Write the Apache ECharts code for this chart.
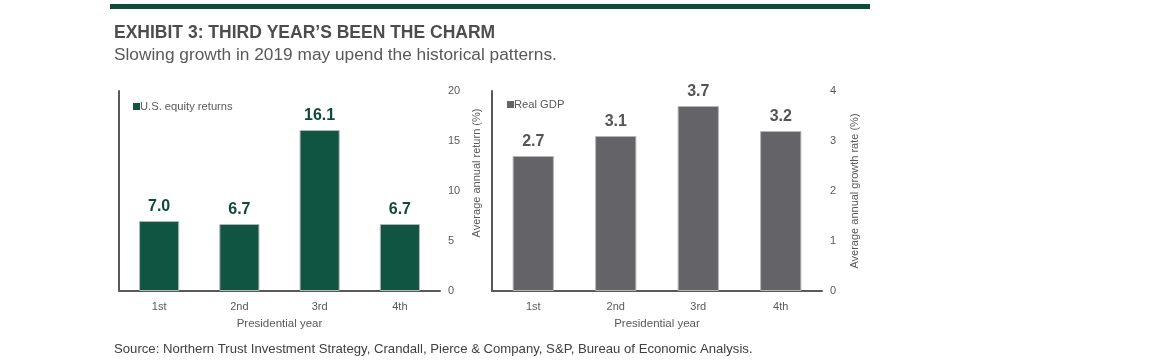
<!DOCTYPE html>
<html>
<head>
<meta charset="utf-8">
<script src="https://cdn.jsdelivr.net/npm/echarts@6/dist/echarts.min.js"></script>
<style>
html,body{margin:0;padding:0;background:#fff;}
#c{width:1168px;height:362px;}
</style>
</head>
<body>
<div id="c"></div>
<script>
var categories = ['1st', '2nd', '3rd', '4th'];
var equityReturns = [7.0, 6.7, 16.1, 6.7];
var realGDP = [2.7, 3.1, 3.7, 3.2];
var leftTicks = {min: 0, max: 20, interval: 5};
var rightTicks = {min: 0, max: 4, interval: 1};

var FONT = '"Liberation Sans", Arial, sans-serif';
var AXIS = '#595959';
var GREEN = '#0f5542';
var GRAY = '#646468';

var chart = echarts.init(document.getElementById('c'), null, {renderer: 'canvas'});

function xAxis(gi) {
  return {
    type: 'category', gridIndex: gi, data: categories,
    axisLine: {lineStyle: {color: AXIS, width: 2}},
    axisTick: {show: false},
    axisLabel: {color: AXIS, fontFamily: FONT, fontSize: 11, margin: 10},
    name: 'Presidential year', nameLocation: 'middle', nameGap: 27,
    nameTextStyle: {color: AXIS, fontFamily: FONT, fontSize: 11.5}
  };
}
function yLeft(gi, t) {
  return {
    type: 'value', gridIndex: gi, position: 'left', min: t.min, max: t.max, interval: t.interval,
    axisLine: {show: true, lineStyle: {color: AXIS, width: 2}},
    axisTick: {show: false}, axisLabel: {show: false}, splitLine: {show: false}
  };
}
function yRight(gi, t, name, gap, pad) {
  return {
    type: 'value', gridIndex: gi, position: 'right', min: t.min, max: t.max, interval: t.interval,
    axisLine: {show: false}, axisTick: {show: false}, splitLine: {show: false},
    axisLabel: {color: AXIS, fontFamily: FONT, fontSize: 11, margin: 8, align: 'left'},
    name: name, nameLocation: 'middle', nameRotate: 90, nameGap: gap,
    nameTextStyle: {color: AXIS, fontFamily: FONT, fontSize: 11, padding: pad}
  };
}

chart.setOption({
  animation: false,
  graphic: [
    {type: 'rect', shape: {x: 110, y: 4, width: 760, height: 5}, style: {fill: '#0b4d38'}},
    {type: 'text', x: 114, y: 33, style: {text: 'EXHIBIT 3: THIRD YEAR\u2019S BEEN THE CHARM', fill: '#4d4d4f', font: 'bold 17.5px ' + FONT, verticalAlign: 'middle'}},
    {type: 'text', x: 114, y: 55, style: {text: 'Slowing growth in 2019 may upend the historical patterns.', fill: '#59595b', font: '17.3px ' + FONT, verticalAlign: 'middle'}},
    {type: 'text', x: 114, y: 349, style: {text: 'Source: Northern Trust Investment Strategy, Crandall, Pierce & Company, S&P, Bureau of Economic Analysis.', fill: '#404040', font: '13.15px ' + FONT, verticalAlign: 'middle'}}
  ],
  legend: [
    {data: ['U.S. equity returns'], left: 128, top: 96, icon: 'rect', itemWidth: 7, itemHeight: 7, itemGap: 2,
     itemStyle: {borderWidth: 0},
     textStyle: {color: AXIS, fontFamily: FONT, fontSize: 11.2, padding: [0,0,0,-5]}},
    {data: ['Real GDP'], left: 502, top: 94, icon: 'rect', itemWidth: 7, itemHeight: 7, itemGap: 2,
     itemStyle: {borderWidth: 0},
     textStyle: {color: AXIS, fontFamily: FONT, fontSize: 11.2, padding: [0,0,0,-5]}}
  ],
  grid: [
    {left: 119, top: 91, width: 321, height: 200},
    {left: 492, top: 91, width: 330, height: 200}
  ],
  xAxis: [xAxis(0), xAxis(1)],
  yAxis: [
    yLeft(0, leftTicks),
    yRight(0, leftTicks, 'Average annual return (%)', 31, [0, 0, 0, 36]),
    yLeft(1, rightTicks),
    yRight(1, rightTicks, 'Average annual growth rate (%)', 27, 0)
  ],
  series: [
    {name: 'U.S. equity returns', type: 'bar', xAxisIndex: 0, yAxisIndex: 1, data: equityReturns,
     barWidth: '50%', itemStyle: {color: GREEN, borderColor: '#b5b5b5', borderWidth: 1},
     label: {show: true, position: 'top', distance: 6, color: '#0e4a3b', fontFamily: FONT, fontSize: 16, fontWeight: 'bold',
       formatter: function (p) { return p.value.toFixed(1); }}},
    {name: 'Real GDP', type: 'bar', xAxisIndex: 1, yAxisIndex: 3, data: realGDP,
     barWidth: '50%', itemStyle: {color: GRAY, borderColor: '#b5b5b5', borderWidth: 1},
     label: {show: true, position: 'top', distance: 6, color: '#555558', fontFamily: FONT, fontSize: 16, fontWeight: 'bold',
       formatter: function (p) { return p.value.toFixed(1); }}}
  ]
});
</script>
</body>
</html>
